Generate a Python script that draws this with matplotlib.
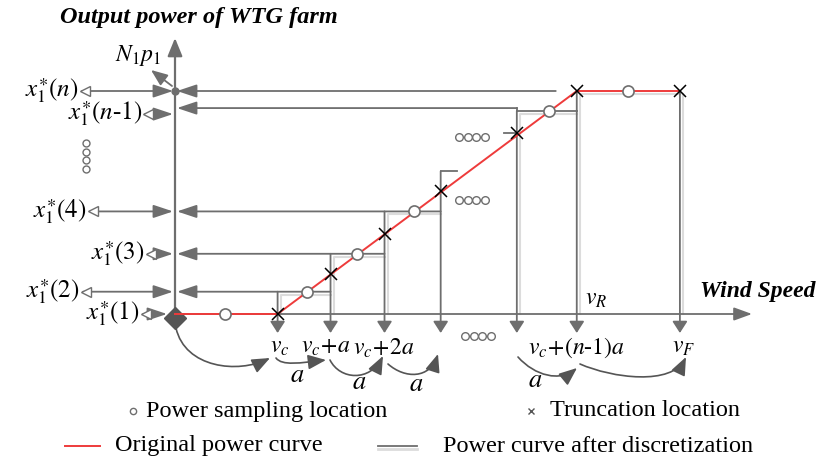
import matplotlib.pyplot as plt
from matplotlib.patches import FancyArrowPatch
from matplotlib.path import Path

plt.rcParams["font.family"] = "Liberation Serif"
plt.rcParams["mathtext.fontset"] = "stix"

# wind speed in units of the step a, power normalised to the rated farm power
v_edge = [0, 1.9, 2.88, 3.88, 4.92, 6.33, 7.44, 9.35]   # 0, v_c, v_c+a, ..., v_R, v_F
p_edge = [0, 0.0, 0.18, 0.36, 0.55, 0.81, 1.0, 1.0]     # original curve at those speeds
v_samp = [0.93, 2.44, 3.37, 4.43, 6.93, 8.39]           # power sampling locations
p_samp = [0.0, 0.10, 0.27, 0.46, 0.91, 1.0]
step_idx = [0, 1, 2, 3, 5, 6]                           # interval of each sampled step
p_gap = 0.64                                            # level of the step left out (....)
curve_v = [0, 1.9, 7.44, 9.35]
curve_p = [0, 0, 1, 1]
level_labels = [r"$x_1^{\ast}(1)$", r"$x_1^{\ast}(2)$", r"$x_1^{\ast}(3)$",
                r"$x_1^{\ast}(4)$", r"$x_1^{\ast}(n$-$1)$", r"$x_1^{\ast}(n)$"]
speed_labels = [r"$v_c$", r"$v_c\!+\!a$", r"$v_c\!+\!2a$", "", "",
                r"$v_c\!+\!(n$-$1)a$", r"$v_F$"]

GRAY = "#6e6e6e"
DARK = "#555555"
SHADOW = "#dcdcdc"
RED = "#ee3b3b"

# canvas layout (pixels of the 818x462 picture)
OX, OY, SX, SY = 175, 314, 54.0, 223.0


def P(x, y):
    """pixel position -> data coordinates"""
    return ((x - OX) / SX, (OY - y) / SY)


def dx(px):
    return px / SX


def dy(px):
    return px / SY


fig = plt.figure(figsize=(8.18, 4.62), dpi=100)
ax = fig.add_axes([0, 0, 1, 1])
ax.set_xlim(-OX / SX, (818 - OX) / SX)
ax.set_ylim(-(462 - OY) / SY, OY / SY)
ax.axis("off")


def arrow(p0, p1, hl=1.0, hw=0.4, lw=1.3, color=GRAY, z=3):
    ax.add_patch(FancyArrowPatch(p0, p1, arrowstyle=f"-|>,head_length={hl},head_width={hw}",
                                 mutation_scale=10, lw=lw, color=color,
                                 shrinkA=0, shrinkB=0, zorder=z))


def curved(pts):
    path = Path([P(*q) for q in pts], [Path.MOVETO, Path.CURVE4, Path.CURVE4, Path.CURVE4])
    ax.add_patch(FancyArrowPatch(path=path, arrowstyle="-|>,head_length=1.1,head_width=0.45",
                                 mutation_scale=10, lw=1.2, color=DARK, zorder=3))


# axes
arrow(P(175, 324), P(175, 38), hl=1.1, hw=0.45, lw=1.6)
arrow((0, 0), P(752, 314), hl=1.1, hw=0.4, lw=1.3)
ax.text(*P(60, 18), "Output power of WTG farm", fontsize=17.5, fontweight="bold",
        fontstyle="italic", ha="left", va="center")
ax.text(*P(816, 291), "Wind Speed", fontsize=17, fontweight="bold",
        fontstyle="italic", ha="right", va="center")

# discretised power curve: steps with their shadows
for k, i in enumerate(step_idx[1:], start=1):
    a0, a1, lv = v_edge[i], v_edge[i + 1], p_samp[k]
    ax.plot([a0 + dx(3), a0 + dx(3), a1], [0, lv - dy(3), lv - dy(3)],
            color=SHADOW, lw=1.5, zorder=1)
ax.plot([v_edge[7] + dx(3)] * 2, [0, 1 - dy(3)], color=SHADOW, lw=1.5, zorder=1)

# vertical drop lines to the speed axis
tops = [p_samp[1], p_samp[2], p_samp[3], p_gap, p_samp[4], p_samp[5], p_samp[5]]
for v, top in zip(v_edge[1:], tops):
    arrow((v, top), (v, -dy(19)), hl=0.7, hw=0.45, lw=1.3)
ax.plot([v_edge[4], v_edge[4] + dx(16)], [p_gap, p_gap], color=GRAY, lw=1.3)
ax.plot([v_edge[5] - dx(13), v_edge[5]], [p_edge[5], p_edge[5]], color=GRAY, lw=1.3)

# horizontal arrows from each step back to the power axis
ends = [None, v_edge[2], v_edge[3], v_edge[4], v_edge[5], v_edge[6] - dx(21)]
for k, lv in enumerate(p_samp):
    y = lv + dy(3) if k == 4 else lv
    if ends[k] is not None:
        arrow((ends[k], y), (dx(2), y), hl=1.2, hw=0.4)
    if k == 4:
        ax.plot([v_edge[5], v_edge[6]], [lv, lv], color=GRAY, lw=1.3, zorder=2)
        ax.plot([v_edge[5], v_edge[5]], [y, lv], color=GRAY, lw=1.3, zorder=2)

# left side: level labels with double arrows
open_x = [143, 83, 148, 90, 145, 82]
for k, lv in enumerate(p_samp):
    y = lv - dy(3) if k == 4 else lv
    xo = -dx(175 - open_x[k])
    tip = -dx(8) if k == 0 else -dx(2)
    arrow((xo, y), (tip, y), hl=1.2, hw=0.4)
    ax.plot(xo + dx(3), y, marker="<", ms=7, mfc="white", mec=GRAY, mew=1.0, zorder=4)
    ax.text(xo - dx(3), y, level_labels[k], fontsize=18, ha="right", va="center")
ax.plot(0, -dy(4), marker="D", ms=11, color=DARK, zorder=5)
ax.plot(0, 1, marker="o", ms=5, color=GRAY, zorder=5)
for j in range(4):
    ax.plot(*P(86, 143 + 8.5 * j), marker="o", ms=5, mfc="white", mec=GRAY, mew=1.0)
arrow(P(172, 86), P(151, 70), hl=1.0, hw=0.4)
ax.text(*P(138, 56), r"$N_1p_1$", fontsize=17, ha="center", va="center")

# original power curve, sampling and truncation points
ax.plot(curve_v, curve_p, color=RED, lw=1.4, zorder=6)
ax.plot(v_samp, p_samp, "o", ms=8, mfc="white", mec=GRAY, mew=1.2, zorder=7)
ax.plot(v_edge[1:], p_edge[1:], "x", ms=8, color="black", mew=1.1, zorder=7)

# omitted steps
for cx, cy in [(472, 137), (472, 200), (478, 336)]:
    for j in range(4):
        ax.plot(*P(cx - 13 + 8.5 * j, cy), marker="o", ms=5.5, mfc="white", mec=GRAY, mew=1.0)

# speed labels
shift = [2, -5, -1, 0, 0, 0, 4]
for v, lab, s in zip(v_edge[1:], speed_labels, shift):
    if lab:
        ax.text(v + dx(s), -dy(34), lab, fontsize=17, ha="center", va="center")
ax.text(*P(596, 300), r"$v_R$", fontsize=17, ha="center", va="center")

# step arrows a
curved([(176, 328), (185, 368), (238, 374), (270, 358)])
curved([(276, 358), (282, 366), (300, 363), (326, 360)])
curved([(330, 360), (340, 380), (370, 382), (383, 356)])
curved([(388, 364), (405, 379), (430, 379), (438, 354)])
curved([(518, 357), (535, 376), (560, 382), (577, 368)])
curved([(580, 364), (612, 378), (672, 386), (686, 357)])
for x, y in [(297, 376), (359, 383), (416, 385), (535, 381)]:
    ax.text(*P(x, y), r"$a$", fontsize=19, ha="center", va="center")

# legend
ax.plot(*P(133, 411), marker="o", ms=4.5, mfc="white", mec=GRAY, mew=1.0)
ax.text(*P(146, 411), "Power sampling location", fontsize=17.5, ha="left", va="center")
ax.plot(*P(531, 411), marker="x", ms=4.5, color=DARK, mew=1.0)
ax.text(*P(550, 411), "Truncation location", fontsize=17.5, ha="left", va="center")
ax.plot([dx(65 - OX), dx(100 - OX)], [-dy(446 - OY)] * 2, color=RED, lw=1.4)
ax.text(*P(115, 446), "Original power curve", fontsize=17.5, ha="left", va="center")
ax.plot([dx(378 - OX), dx(417 - OX)], [-dy(449 - OY)] * 2, color=SHADOW, lw=2)
ax.plot([dx(378 - OX), dx(417 - OX)], [-dy(446 - OY)] * 2, color=GRAY, lw=1.3)
ax.text(*P(443, 446), "Power curve after discretization", fontsize=17.5, ha="left", va="center")

fig.savefig("out.png", dpi=100)
